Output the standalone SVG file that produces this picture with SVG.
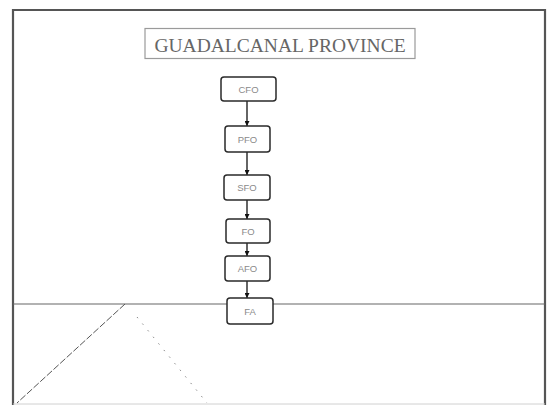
<svg xmlns="http://www.w3.org/2000/svg" width="547" height="405" viewBox="0 0 547 405">
  <style>
    .node rect { fill: #ffffff; stroke: #2a2a2a; stroke-width: 1.5; }
    .node text { font-family: "Liberation Sans", Arial, sans-serif; font-size: 9.5px; fill: #8a8a8a; text-anchor: middle; }
    .link { stroke: #111111; stroke-width: 1.3; fill: none; marker-end: url(#arrow); }
    .frame { stroke: #555555; stroke-width: 2.2; fill: none; }
  </style>
  <defs>
    <marker id="arrow" viewBox="0 0 10 10" refX="10" refY="5" markerWidth="5" markerHeight="5" orient="auto" markerUnits="userSpaceOnUse">
      <path d="M0,0 L10,5 L0,10 z" fill="#111111"/>
    </marker>
  </defs>
  <rect width="547" height="405" fill="#ffffff"/>

  <!-- outer frame -->
  <path class="frame" d="M13,405 V10 H545 V405"/>
  <line x1="13" y1="404" x2="545" y2="404" stroke="#d0d0d0" stroke-width="1"/>
  <!-- ground line and slopes -->
  <line x1="13" y1="304" x2="545" y2="304" stroke="#666666" stroke-width="1.2"/>
  <line x1="125" y1="304" x2="17" y2="403" stroke="#555555" stroke-width="1" stroke-dasharray="7,2"/>
  <line x1="137" y1="317" x2="207" y2="403" stroke="#888888" stroke-width="1" stroke-dasharray="1.5,7"/>

  <!-- title -->
  <g id="title">
    <rect x="145" y="28.5" width="270" height="30" fill="#ffffff" stroke="#9a9a9a" stroke-width="1.2"/>
    <text x="280" y="52" font-family="Liberation Serif, 'Times New Roman', serif" font-size="19.5" fill="#666666" text-anchor="middle">GUADALCANAL PROVINCE</text>
  </g>

  <!-- connectors -->
  <g id="connectors">
    <line class="link" x1="247" y1="101" x2="247" y2="126"/>
    <line class="link" x1="247" y1="152" x2="247" y2="175"/>
    <line class="link" x1="247" y1="200" x2="247" y2="219"/>
    <line class="link" x1="247" y1="243" x2="247" y2="256"/>
    <line class="link" x1="247" y1="281" x2="247" y2="298"/>
  </g>

  <!-- nodes -->
  <g id="cfo" class="node">
    <rect x="221" y="77" width="55" height="24" rx="3"/>
    <text x="248.5" y="92.5">CFO</text>
  </g>
  <g id="pfo" class="node">
    <rect x="225" y="126" width="45" height="26" rx="3"/>
    <text x="247.5" y="142.5">PFO</text>
  </g>
  <g id="sfo" class="node">
    <rect x="224" y="175" width="46" height="25" rx="3"/>
    <text x="247" y="191">SFO</text>
  </g>
  <g id="fo" class="node">
    <rect x="226" y="219" width="44" height="24" rx="3"/>
    <text x="248" y="234.5">FO</text>
  </g>
  <g id="afo" class="node">
    <rect x="225" y="256" width="45" height="25" rx="3"/>
    <text x="247.5" y="272">AFO</text>
  </g>
  <g id="fa" class="node">
    <rect x="227" y="298" width="46" height="26" rx="3"/>
    <text x="250" y="315">FA</text>
  </g>
</svg>
